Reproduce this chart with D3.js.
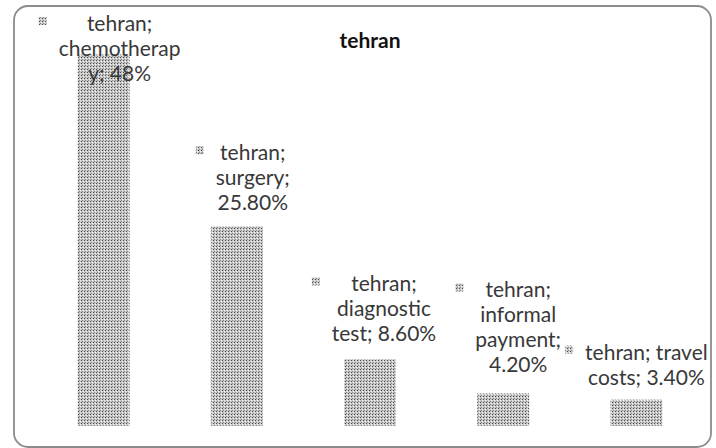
<!DOCTYPE html>
<html>
<head>
<meta charset="utf-8">
<script src="https://cdn.jsdelivr.net/npm/d3@7"></script>
<style>
  body { margin: 0; background: #fff; }
  svg { display: block; }
  .label { font-family: Lato, "Liberation Sans", sans-serif; font-size: 21px; fill: #383838; }
  .title { font-family: Lato, "Liberation Sans", sans-serif; font-size: 21px; font-weight: bold; fill: #111; }
</style>
</head>
<body>
<svg id="chart"></svg>
<script>
const title = "tehran";
const categories = ["chemotherapy", "surgery", "diagnostic test", "informal payment", "travel costs"];
const values = [0.48, 0.258, 0.086, 0.042, 0.034];
const labelLines = [
  ["tehran;", "chemotherap", "y; 48%"],
  ["tehran;", "surgery;", "25.80%"],
  ["tehran;", "diagnostic", "test; 8.60%"],
  ["tehran;", "informal", "payment;", "4.20%"],
  ["tehran; travel", "costs; 3.40%"]
];

const width = 716, height = 448;
const margin = { top: 39, right: 13, bottom: 22, left: 37 };
const lineH = 25;

const svg = d3.select("#chart").attr("width", width).attr("height", height);

// dotted grey fill like the original's pattern
const defs = svg.append("defs");
const pat = defs.append("pattern")
  .attr("id", "dots")
  .attr("patternUnits", "userSpaceOnUse")
  .attr("width", 3).attr("height", 3);
pat.append("rect").attr("width", 3).attr("height", 3).attr("fill", "#c8c8c8");
pat.append("rect").attr("x", 0).attr("y", 0).attr("width", 1).attr("height", 1).attr("fill", "#4a4a4a");
pat.append("rect").attr("x", 2).attr("y", 1).attr("width", 1).attr("height", 1).attr("fill", "#f4f4f4");
pat.append("rect").attr("x", 1).attr("y", 2).attr("width", 1).attr("height", 1).attr("fill", "#8a8a8a");

// outer frame
svg.append("rect")
  .attr("x", 14).attr("y", 6)
  .attr("width", 697).attr("height", 441)
  .attr("rx", 14).attr("ry", 14)
  .attr("fill", "none")
  .attr("stroke", "#8c8c8c")
  .attr("stroke-width", 1.8);

const x = d3.scaleBand()
  .domain(categories)
  .range([margin.left, width - margin.right])
  .paddingInner(0.61)
  .paddingOuter(0.305);

const y = d3.scaleLinear()
  .domain([0, 0.5])
  .range([height - margin.bottom, margin.top]);

svg.append("text")
  .attr("class", "title")
  .attr("x", 370).attr("y", 48)
  .attr("text-anchor", "middle")
  .text(title);

svg.append("g").selectAll("rect")
  .data(categories)
  .join("rect")
  .attr("x", d => x(d))
  .attr("y", (d, i) => y(values[i]))
  .attr("width", x.bandwidth())
  .attr("height", (d, i) => y(0) - y(values[i]))
  .attr("fill", "url(#dots)");

// data labels sit above each bar, nudged the way the original was
const nudge = [[16, 0], [16, 0], [14, -2], [15, -5], [10, 1]];
const labels = svg.append("g");
categories.forEach((c, i) => {
  const lines = labelLines[i];
  let cx = x(c) + x.bandwidth() / 2 + nudge[i][0];
  let last = y(values[i]) - 16 + nudge[i][1];
  let first = last - (lines.length - 1) * lineH;
  if (first < 31) { first = 31; }

  const t = labels.append("text")
    .attr("class", "label")
    .attr("text-anchor", "middle");
  lines.forEach((s, j) => {
    t.append("tspan").attr("x", cx).attr("y", first + j * lineH).text(s);
  });
  let w = d3.max(t.selectAll("tspan").nodes(), n => n.getComputedTextLength());
  if (cx + w / 2 > width - 4) {
    cx = width - 4 - w / 2;
    t.selectAll("tspan").attr("x", cx);
  }
  labels.append("rect")
    .attr("x", cx - w / 2 - 20)
    .attr("y", first - 14)
    .attr("width", 8).attr("height", 8)
    .attr("fill", "url(#dots)");
});
</script>
</body>
</html>
